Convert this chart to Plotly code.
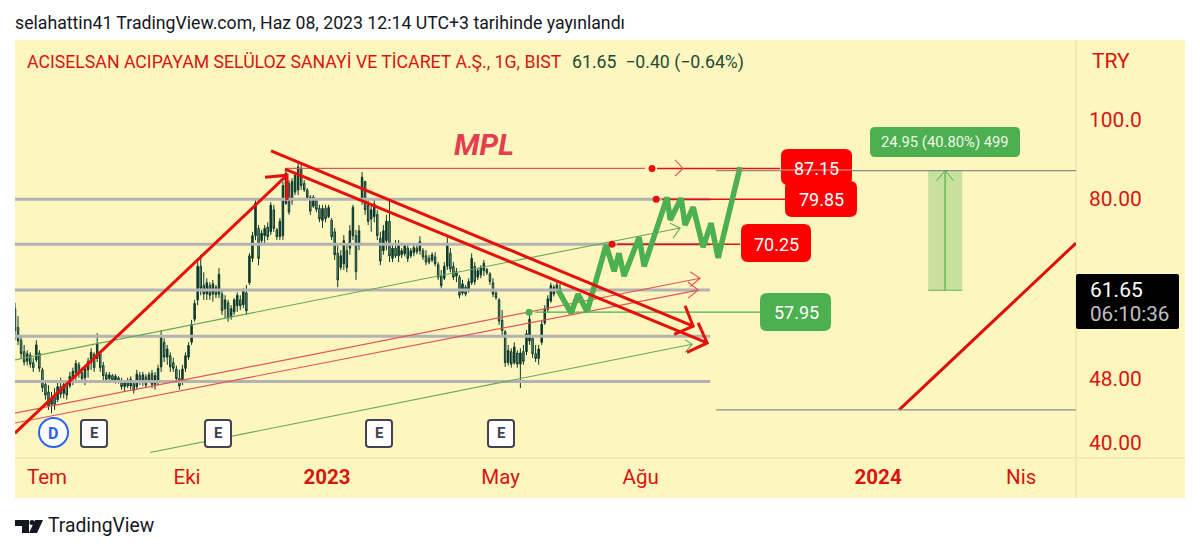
import math
import plotly.graph_objects as go

# ---------- data (x = calendar days since 2022-06-10, y = TRY) ----------
bar_days = list(range(0, 360, 2))
highs = [59.5,57.3,54.3,52.8,52.0,51.7,50.9,53.5,52.0,49.5,47.8,47.1,46.2,46.7,47.5,48.1,47.8,47.5,48.9,49.5,
 50.6,50.3,49.5,49.9,50.9,52.3,51.7,54.6,51.7,50.3,48.9,48.9,48.6,48.6,48.3,48.1,47.8,48.1,48.3,47.8,
 49.2,48.9,48.9,48.6,48.9,49.2,48.9,49.9,55.1,53.8,52.8,51.7,50.9,49.8,49.2,49.9,51.7,53.2,56.7,60.0,
 66.8,68.2,64.9,63.8,63.1,63.5,62.6,65.7,61.7,60.8,60.0,59.1,60.3,61.3,60.8,62.0,62.6,68.5,72.8,79.7,
 74.2,73.2,74.2,74.8,79.2,78.6,73.6,75.7,83.9,86.8,84.3,84.8,86.3,88.8,88.0,84.3,82.4,80.8,80.8,80.1,
 78.6,78.6,78.6,78.6,75.7,73.6,70.1,69.1,72.1,70.1,74.2,78.6,73.2,74.2,86.3,83.1,79.7,78.6,79.7,77.4,
 72.8,74.2,76.4,80.1,70.1,71.1,71.1,69.5,70.5,70.1,69.5,70.1,70.5,71.9,69.5,69.1,68.2,68.7,68.7,66.8,
 65.3,66.8,71.7,69.5,66.8,65.7,64.4,63.5,62.6,63.8,68.5,66.8,65.7,66.2,67.2,65.7,64.9,63.8,61.7,60.3,
 58.3,55.1,52.8,52.3,53.2,52.0,52.3,52.8,55.1,57.5,54.3,52.8,52.8,56.7,59.1,60.8,63.0,62.6,63.1,62.8]
lows = [53.5,52.8,50.9,49.8,49.8,49.5,48.9,50.3,48.9,46.2,45.2,43.9,43.5,43.9,44.9,45.4,45.4,45.2,46.7,47.1,
 47.8,48.1,47.5,47.1,48.1,49.2,48.9,50.3,48.9,47.8,47.5,47.8,47.5,47.3,47.3,46.5,46.2,46.7,46.5,46.0,
 46.5,47.1,47.0,46.7,47.5,46.7,46.5,47.1,48.9,50.3,49.9,48.9,48.9,47.5,46.5,47.1,48.9,50.6,52.8,56.4,
 59.1,60.8,60.0,60.0,60.0,59.7,60.3,60.3,57.5,57.0,56.4,56.7,57.5,58.0,58.3,58.6,57.5,62.6,66.8,71.1,
 66.2,70.1,70.5,71.1,72.1,72.8,71.1,71.1,71.1,78.6,76.4,78.6,80.8,80.8,82.0,81.5,79.7,76.4,77.9,77.0,
 74.8,73.6,74.8,75.7,71.1,67.2,62.2,65.3,65.3,64.9,68.2,71.1,63.5,69.1,78.6,76.4,74.2,72.8,74.8,71.1,
 66.2,68.2,69.1,66.8,66.8,67.6,66.8,67.6,67.9,66.8,67.6,67.9,68.3,68.2,67.2,66.2,66.4,66.8,66.0,63.5,
 62.0,63.5,65.3,64.9,63.5,63.1,60.3,60.8,60.6,61.3,62.6,62.6,63.5,63.8,64.2,64.4,62.6,60.5,60.0,55.9,
 54.3,49.6,49.8,49.5,49.9,49.5,46.7,49.9,51.3,52.8,50.9,50.3,49.9,52.8,55.9,58.0,59.5,60.6,61.3,61.3]
opens = [58.5,55.5,53.5,51.8,50.4,51.3,50.2,50.6,51.6,49.2,47.2,46.2,44.6,45.5,45.2,46.9,46.0,47.0,47.0,48.0,
 48.8,49.9,48.8,48.1,49.2,50.2,51.4,50.8,51.5,49.8,48.5,48.0,48.4,47.8,48.1,47.6,46.9,47.4,47.0,47.3,
 46.9,48.4,47.5,48.2,47.8,48.7,47.2,47.5,49.6,53.2,51.0,51.2,50.2,49.3,48.0,47.5,49.4,51.0,53.2,56.8,
 60.0,66.0,62.5,61.0,62.5,61.0,62.2,61.0,61.0,58.5,59.5,57.2,58.0,59.0,60.0,59.2,61.2,63.0,67.5,72.0,
 73.5,71.0,72.0,73.8,72.8,77.5,73.2,71.8,72.0,78.9,83.5,79.5,81.5,82.0,87.0,83.5,82.0,80.3,78.3,79.8,
 77.8,75.2,77.8,76.0,75.2,72.8,68.5,65.8,66.5,69.0,69.5,72.0,72.0,70.0,79.5,84.0,78.5,75.5,76.0,76.5,
 71.5,69.0,71.0,75.0,67.5,69.5,68.0,68.2,68.4,69.5,68.0,68.6,69.5,69.0,69.0,68.0,67.6,67.2,67.8,66.3,
 64.2,63.8,66.0,68.5,66.0,64.2,64.0,61.2,62.2,61.5,63.0,66.0,64.0,64.4,65.2,65.4,64.6,63.0,61.2,60.0,
 56.6,54.8,50.2,51.8,50.2,51.6,50.0,51.8,51.8,53.4,53.8,51.5,50.8,53.2,56.2,58.4,59.8,61.0,61.8,62.05]
closes = [55.0,53.4,51.5,50.3,51.5,50.0,49.5,52.8,49.4,46.8,45.8,44.4,45.4,44.6,46.9,45.9,47.2,45.8,48.3,49.0,
 50.1,48.7,48.0,49.4,50.4,51.7,49.5,53.0,49.5,48.4,47.9,48.5,47.8,48.3,47.6,46.9,47.4,47.0,47.9,46.4,
 48.6,47.5,48.5,47.1,48.5,47.2,48.4,49.4,54.0,51.0,52.2,49.6,49.4,48.0,47.0,49.3,51.2,52.7,56.0,59.4,
 66.0,62.0,61.0,63.0,60.8,62.8,60.9,64.5,58.2,60.0,57.0,58.5,60.0,60.8,59.0,61.5,58.2,68.0,72.0,79.0,
 67.5,72.5,73.5,71.8,78.5,73.5,71.8,75.0,83.0,86.0,77.0,84.0,85.5,87.5,83.0,82.0,80.2,77.2,80.3,77.6,
 75.5,77.8,75.6,78.0,71.8,68.2,63.5,68.0,71.0,65.8,73.0,78.0,65.0,73.0,85.0,77.5,75.0,77.5,78.8,72.0,
 67.0,73.0,75.0,68.0,69.5,68.0,70.0,69.0,70.0,67.5,69.0,69.6,68.8,70.8,67.8,66.8,66.8,68.2,66.5,64.0,
 62.5,66.0,70.5,65.5,64.0,65.0,60.8,62.8,61.0,63.2,67.5,63.2,65.2,65.8,66.6,64.8,63.2,61.0,60.4,56.5,
 55.0,50.2,52.0,50.0,52.5,50.0,51.6,50.4,54.5,56.8,51.5,50.8,52.2,56.0,58.5,60.2,62.5,62.2,62.6,61.65]

tick_days = [21, 113, 205, 319, 411, 567, 661]
tick_text = ["Tem", "Eki", "<b>2023</b>", "May", "Ağu", "<b>2024</b>", "Nis"]
price_ticks = [100, 80, 48, 40]
price_text = ["100.0", "80.00", "48.00", "40.00"]

level_prices = [79.85, 70.25, 61.7, 54.1, 47.6]
level_days = [0, 456.6]

impulse_days = [0, 178.7]
impulse_prices = [41.1, 85.5]
impulse_head_days = [164.3, 178.7, 178.7]
impulse_head_prices = [85.0, 85.5, 79.7]

fall1_days = [168.2, 445.5]
fall1_prices = [91.6, 55.7]
fall1_head_days = [440.2, 445.5, 433.0]
fall1_head_prices = [59.0, 55.7, 54.4]
fall2_days = [177.4, 454.7]
fall2_prices = [87.0, 53.1]
fall2_head_days = [448.8, 454.7, 441.5]
fall2_head_prices = [56.2, 53.1, 51.7]

green_up_days = [0, 436.9]
green_up_prices = [50.6, 73.6]
green_up_head_days = [430.4, 436.9, 432.3]
green_up_head_prices = [74.6, 73.6, 71.5]
green_lo_days = [88.7, 444.8]
green_lo_prices = [38.9, 52.9]
green_lo_head_days = [440.2, 444.8, 440.2]
green_lo_head_prices = [53.6, 52.9, 51.7]

red1_days = [0, 450.0]
red1_prices = [43.5, 63.8]
red1_head_days = [443.5, 450.0, 443.5]
red1_head_prices = [65.0, 63.8, 62.3]
red2_days = [0, 448.8]
red2_prices = [42.3, 61.7]
red2_head_days = [442.2, 448.8, 442.2]
red2_head_prices = [63.1, 61.7, 60.3]

forecast_days = [356.8,365.3,369.9,375.8,388.3,393.6,396.8,400.1,410.0,413.3,428.4,430.4,437.6,440.2,445.5,452.0,457.3,461.9,476.3]
forecast_prices = [61.7,57.8,61.0,58.0,70.1,65.1,68.5,64.2,71.7,66.0,80.3,75.3,80.1,74.2,78.1,69.7,74.6,67.6,87.5]

target_thin_days = [177.4, 413.9]
target_price = 87.15
target_days = [421.8, 502.6]
target_head_days = [433.6, 438.9, 433.6]
target_head_prices = [89.3, 87.15, 85.3]
t2_price = 79.85
t2_days = [425.1, 505.9]
t3_price = 70.25
t3_days = [395.5, 476.4]
stop_price = 57.95
stop_days = [341.7, 489.5]
red_dot_days = [418.5, 421.2, 392.2]
red_dot_prices = [87.15, 79.85, 70.25]
green_dot_days = [337.7]
green_dot_prices = [57.95]

box_days = [599.9, 622.2]
box_mid_day = 611.0
box_prices = [61.65, 86.6]
box_head_days = [605.5, 611.0, 616.5]
box_head_prices = [84.2, 86.6, 84.2]
guide_days = [460.6, 697]
guide_high_price = 86.6
guide_low_price = 43.9
diag_days = [580.8, 697]
diag_prices = [43.9, 70.5]

# ---------- page layout helpers ----------
L, R, T, B = 15, 1076, 40, 458
def fx(x): return (x - L) / (R - L)
def fy(y): return (B - y) / (B - T)

RED = "#e60f0a"
LBL = "#d9140f"
GRN = "#4caf50"
THINRED = "#e0555a"
THINGRN = "#66a85c"

def rrect(x0, y0, x1, y1, r, fill, line="rgba(0,0,0,0)", lw=0):
    path = (f"M {fx(x0+r)} {fy(y0)} L {fx(x1-r)} {fy(y0)} Q {fx(x1)} {fy(y0)} {fx(x1)} {fy(y0+r)} "
            f"L {fx(x1)} {fy(y1-r)} Q {fx(x1)} {fy(y1)} {fx(x1-r)} {fy(y1)} "
            f"L {fx(x0+r)} {fy(y1)} Q {fx(x0)} {fy(y1)} {fx(x0)} {fy(y1-r)} "
            f"L {fx(x0)} {fy(y0+r)} Q {fx(x0)} {fy(y0)} {fx(x0+r)} {fy(y0)} Z")
    return dict(type="path", xref="paper", yref="paper", path=path, fillcolor=fill,
                line=dict(color=line, width=lw), layer="above")

def text(x, y, s, size=16, color="#131722", anchor="left", **kw):
    return dict(xref="paper", yref="paper", x=fx(x), y=fy(y), text=s, showarrow=False,
                borderpad=0, borderwidth=0,
                xanchor=anchor, yanchor="middle", font=dict(family="Roboto", size=size, color=color), **kw)

fig = go.Figure()
fig.add_trace(go.Candlestick(
    x=bar_days, open=opens, high=highs, low=lows, close=closes,
    increasing=dict(line=dict(color="#0c3a2d", width=1), fillcolor="#0c3a2d"),
    decreasing=dict(line=dict(color="#0c3a2d", width=1), fillcolor="#7f9f8a"),
    whiskerwidth=0, showlegend=False, hoverinfo="skip"))

def line(xs, ys, color, width, shape="linear", opacity=1.0):
    fig.add_trace(go.Scatter(x=xs, y=ys, mode="lines", line=dict(color=color, width=width, shape=shape),
                             opacity=opacity, showlegend=False, hoverinfo="skip"))

for p in level_prices:
    line(level_days, [p, p], "#b2b2b2", 3)

for xs, ys in [(green_up_days, green_up_prices), (green_up_head_days, green_up_head_prices),
               (green_lo_days, green_lo_prices), (green_lo_head_days, green_lo_head_prices)]:
    line(xs, ys, THINGRN, 1.1)
for xs, ys in [(red1_days, red1_prices), (red1_head_days, red1_head_prices),
               (red2_days, red2_prices), (red2_head_days, red2_head_prices)]:
    line(xs, ys, THINRED, 1.2)

line(target_thin_days, [target_price]*2, THINRED, 1.2)
line(target_days, [target_price]*2, RED, 1.5)
line(target_head_days, target_head_prices, THINRED, 1.1)
line(t2_days, [t2_price]*2, RED, 1.5)
line(t3_days, [t3_price]*2, RED, 1.5)
line(stop_days, [stop_price]*2, GRN, 1.3)

line(forecast_days, forecast_prices, GRN, 5.5)

for xs, ys in [(impulse_days, impulse_prices), (impulse_head_days, impulse_head_prices),
               (fall1_days, fall1_prices), (fall1_head_days, fall1_head_prices),
               (fall2_days, fall2_prices), (fall2_head_days, fall2_head_prices)]:
    line(xs, ys, RED, 3)

line(diag_days, diag_prices, "#dc0f0a", 3)
line(guide_days, [guide_high_price]*2, "#8d8d84", 1.2)
line(guide_days, [guide_low_price]*2, "#8d8d84", 1.2)

# measurement box
fig.add_trace(go.Scatter(x=[box_days[0], box_days[1], box_days[1], box_days[0], box_days[0]],
                         y=[box_prices[0], box_prices[0], box_prices[1], box_prices[1], box_prices[0]],
                         mode="lines", fill="toself", fillcolor="rgba(76,175,80,0.30)",
                         line=dict(width=0), showlegend=False, hoverinfo="skip"))
line(box_days, [box_prices[0]]*2, "#7cc06c", 1.2)
line([box_mid_day, box_mid_day], box_prices, GRN, 1.2)
line(box_head_days, box_head_prices, GRN, 1.0)

fig.add_trace(go.Scatter(x=red_dot_days, y=red_dot_prices, mode="markers",
                         marker=dict(size=7, color="#e60f0a"), showlegend=False, hoverinfo="skip"))
fig.add_trace(go.Scatter(x=green_dot_days, y=green_dot_prices, mode="markers",
                         marker=dict(size=7, color=GRN), showlegend=False, hoverinfo="skip"))

shapes = [
    # yellow panel, scale borders
    dict(type="rect", xref="paper", yref="paper", x0=0, x1=fx(1185), y0=fy(498), y1=fy(40),
         fillcolor="#fdf7bf", line=dict(width=0), layer="below"),
    dict(type="line", xref="paper", yref="paper", x0=fx(1076), x1=fx(1076), y0=fy(498), y1=fy(40),
         line=dict(color="#e6dfae", width=1), layer="below"),
    dict(type="line", xref="paper", yref="paper", x0=0, x1=fx(1185), y0=fy(458), y1=fy(458),
         line=dict(color="#e6dfae", width=1), layer="below"),
    # price labels
    rrect(781, 149, 852, 185, 7, "#ff0000"),
    dict(type="line", xref="paper", yref="paper", x0=fx(781), x1=fx(852), y0=fy(170), y1=fy(170),
         line=dict(color="#c9a7a0", width=1.2), layer="above"),
    rrect(785, 181, 857, 217, 7, "#ff0000"),
    rrect(741, 224, 811, 262, 7, "#ff0000"),
    rrect(760, 293, 831, 331, 7, "#4caf50"),
    rrect(870, 127, 1020, 157, 5, "#4caf50"),
    # last price tag
    rrect(1076, 274, 1179, 329, 2, "#000000"),
    # event badges
    rrect(81, 420, 107, 447, 3, "#ffffff", "#3f4354", 2),
    rrect(205, 420, 231, 447, 3, "#ffffff", "#3f4354", 2),
    rrect(366, 420, 392, 447, 3, "#ffffff", "#3f4354", 2),
    rrect(488, 420, 514, 447, 3, "#ffffff", "#3f4354", 2),
    dict(type="circle", xref="paper", yref="paper", x0=fx(39), x1=fx(68), y0=fy(447), y1=fy(418),
         fillcolor="#ffffff", line=dict(color="#2962ff", width=2), layer="above"),
    # TradingView logo
    dict(type="path", xref="paper", yref="paper",
         path=f"M {fx(15)} {fy(520)} L {fx(29)} {fy(520)} L {fx(29)} {fy(533)} L {fx(22)} {fy(533)} L {fx(22)} {fy(526)} L {fx(15)} {fy(526)} Z",
         fillcolor="#131722", line=dict(width=0), layer="above"),
    dict(type="circle", xref="paper", yref="paper", x0=fx(29.5), x1=fx(34.5), y0=fy(525), y1=fy(520),
         fillcolor="#131722", line=dict(width=0), layer="above"),
    dict(type="path", xref="paper", yref="paper",
         path=f"M {fx(35)} {fy(520)} L {fx(43)} {fy(520)} L {fx(37)} {fy(533)} L {fx(29)} {fy(533)} Z",
         fillcolor="#131722", line=dict(width=0), layer="above"),
]

annotations = [
    text(15, 23, "selahattin41 TradingView.com, Haz 08, 2023 12:14 UTC+3 tarihinde yayınlandı", 17.7),
    text(27, 62, "ACISELSAN ACIPAYAM SELÜLOZ SANAYİ VE TİCARET A.Ş., 1G, BIST", 17.7, LBL),
    text(572, 62, "61.65&#160;&#160;−0.40 (−0.64%)", 17.7, "#1e4a36"),
    text(1092, 61, "TRY", 21, LBL),
    text(484, 144, "<b><i>MPL</i></b>", 30, "#e53e4f", "center"),
    text(816, 168, "87.15", 18, "#ffffff", "center"),
    text(821, 199, "79.85", 18, "#ffffff", "center"),
    text(776, 244, "70.25", 18, "#ffffff", "center"),
    text(796, 312, "57.95", 18, "#ffffff", "center"),
    text(945, 142, "24.95 (40.80%) 499", 14.8, "#f0f7e8", "center"),
    text(1090, 290, "61.65", 21, "#ffffff"),
    text(1090, 314, "06:10:36", 20.6, "#c0c0c0"),
    text(53, 433, "<b>D</b>", 16, "#2962ff", "center"),
    text(94, 433, "<b>E</b>", 15, "#3f4354", "center"),
    text(218, 433, "<b>E</b>", 15, "#3f4354", "center"),
    text(379, 433, "<b>E</b>", 15, "#3f4354", "center"),
    text(501, 433, "<b>E</b>", 15, "#3f4354", "center"),
    text(48, 525, "TradingView", 19.3, "#131722"),
]

fig.update_layout(
    width=1200, height=550, margin=dict(l=L, r=1200-R, t=T, b=550-B, pad=0),
    paper_bgcolor="#ffffff", plot_bgcolor="rgba(0,0,0,0)", showlegend=False,
    shapes=shapes, annotations=annotations,
    font=dict(family="Roboto"),
    xaxis=dict(type="linear", range=[0, 697], tickmode="array", tickvals=tick_days, ticktext=tick_text,
               showgrid=False, zeroline=False, showline=False, ticks="", ticklen=0,
               tickfont=dict(family="Roboto", size=20.5, color=LBL), ticklabelstandoff=4,
               rangeslider=dict(visible=False)),
    yaxis=dict(type="log", range=[math.log10(38.3), math.log10(125.5)], side="right",
               tickmode="array", tickvals=price_ticks, ticktext=price_text,
               showgrid=False, zeroline=False, showline=False, ticks="",
               tickfont=dict(family="Roboto", size=21, color=LBL), ticklabelstandoff=12),
)

fig.write_html("out.html", config={"displayModeBar": False},
               post_script="document.body.style.margin='0';document.body.style.overflow='hidden';")
